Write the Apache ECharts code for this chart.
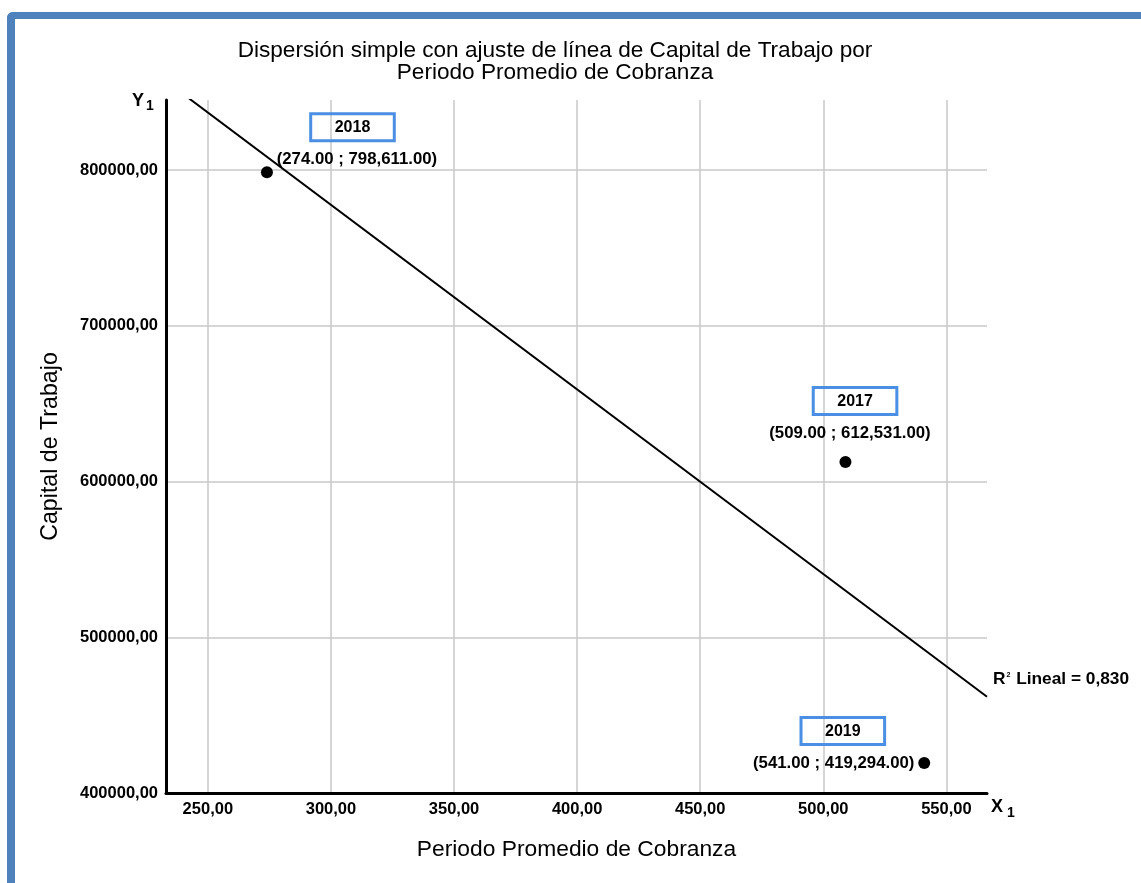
<!DOCTYPE html>
<html>
<head>
<meta charset="utf-8">
<title>Dispersión simple</title>
<script src="https://cdn.jsdelivr.net/npm/echarts@6/dist/echarts.min.js"></script>
<style>
html, body { margin: 0; padding: 0; background: #fff; overflow: hidden; }
#container { position: absolute; left: 0; top: 0; width: 1141px; height: 883px; }
#frame {
    position: absolute; left: 7px; top: 12px; width: 1160px; height: 900px;
    border-top: 7px solid #4f81bd; border-left: 8px solid #4f81bd;
    border-top-left-radius: 6px; pointer-events: none;
}
</style>
</head>
<body>
<div id="container"></div>
<div id="frame"></div>
<script>
// data
var years = ['2018', '2017', '2019'];
var periodo = [274, 509, 541];          // Periodo Promedio de Cobranza
var capital = [798611, 612531, 419294]; // Capital de Trabajo

// label placement (pixels, relative to the dot) and box shift inside the label
var labelOffsets = [[90, 10], [4.5, -6], [-90.5, 23]];
var boxIndent = [34, 44, 48];

var FONT = '"Liberation Sans", Arial, sans-serif';

// least squares fit
function linearFit(xs, ys) {
    var n = xs.length, mx = 0, my = 0;
    for (var i = 0; i < n; i++) { mx += xs[i]; my += ys[i]; }
    mx /= n; my /= n;
    var sxy = 0, sxx = 0, syy = 0;
    for (var j = 0; j < n; j++) {
        sxy += (xs[j] - mx) * (ys[j] - my);
        sxx += (xs[j] - mx) * (xs[j] - mx);
        syy += (ys[j] - my) * (ys[j] - my);
    }
    var slope = sxy / sxx;
    return { slope: slope, intercept: my - slope * mx, r2: (sxy * sxy) / (sxx * syy) };
}
var fit = linearFit(periodo, capital);

var xMin = 233, xMax = 566.5;
var yMin = 400000, yMax = 845000;

function comma(v) {
    return v.toFixed(2).replace('.', ',');
}
function coordText(x, y) {
    var parts = y.toFixed(2).split('.');
    var intPart = parts[0].replace(/\B(?=(\d{3})+(?!\d))/g, ',');
    return '(' + x.toFixed(2) + ' ; ' + intPart + '.' + parts[1] + ')';
}

var dom = document.getElementById('container');
var myChart = echarts.init(dom, null, { renderer: 'canvas' });

var pointData = [];
for (var i = 0; i < years.length; i++) {
    pointData.push({
        value: [periodo[i], capital[i]],
        name: years[i],
        label: {
            offset: labelOffsets[i],
            rich: { sp: { width: boxIndent[i] } }
        }
    });
}

var option = {
    animation: false,
    backgroundColor: '#fff',
    textStyle: { fontFamily: FONT },
    title: [
        {
            text: 'Dispersión simple con ajuste de línea de Capital de Trabajo por\nPeriodo Promedio de Cobranza',
            left: 555,
            textAlign: 'center',
            top: 40,
            padding: 0,
            textStyle: { fontSize: 22.6, lineHeight: 22, fontWeight: 'normal', color: '#000', fontFamily: FONT }
        },
        {
            text: '{a|Y}{s|1}',
            left: 132,
            top: 92,
            padding: 0,
            textStyle: {
                rich: {
                    a: { fontSize: 18, fontWeight: 'bold', color: '#000', fontFamily: FONT, lineHeight: 18, verticalAlign: 'top' },
                    s: { fontSize: 14, fontWeight: 'bold', color: '#000', fontFamily: FONT, padding: [7, 0, 0, 2], verticalAlign: 'top' }
                }
            }
        },
        {
            text: '{a|X}{s|1}',
            left: 991,
            top: 798,
            padding: 0,
            textStyle: {
                rich: {
                    a: { fontSize: 18, fontWeight: 'bold', color: '#000', fontFamily: FONT, lineHeight: 18, verticalAlign: 'top' },
                    s: { fontSize: 14, fontWeight: 'bold', color: '#000', fontFamily: FONT, padding: [8, 0, 0, 4], verticalAlign: 'top' }
                }
            }
        }
    ],
    grid: { left: 166, right: 154, top: 100, bottom: 90, containLabel: false },
    xAxis: {
        type: 'value',
        min: xMin,
        max: xMax,
        splitNumber: 7,
        name: 'Periodo Promedio de Cobranza',
        nameLocation: 'middle',
        nameGap: 45,
        nameTextStyle: { fontSize: 22.8, color: '#000', fontFamily: FONT },
        axisLine: { show: true, onZero: false, lineStyle: { color: '#000', width: 3 } },
        axisTick: { show: false },
        axisLabel: {
            formatter: comma,
            showMinLabel: false,
            showMaxLabel: false,
            margin: 8,
            fontSize: 16.5,
            fontWeight: 'bold',
            color: '#000',
            fontFamily: FONT
        },
        splitLine: { show: true, showMinLine: false, showMaxLine: false, lineStyle: { color: '#c8c8c8', width: 1.5 } }
    },
    yAxis: {
        type: 'value',
        min: yMin,
        max: yMax,
        interval: 100000,
        name: 'Capital de Trabajo',
        nameLocation: 'middle',
        nameRotate: 90,
        nameGap: 104,
        nameTextStyle: { fontSize: 23.2, color: '#000', fontFamily: FONT },
        axisLine: { show: true, onZero: false, lineStyle: { color: '#000', width: 3 } },
        axisTick: { show: false },
        axisLabel: {
            formatter: comma,
            showMaxLabel: false,
            margin: 8,
            fontSize: 16.5,
            fontWeight: 'bold',
            color: '#000',
            fontFamily: FONT
        },
        splitLine: { show: true, showMinLine: false, showMaxLine: false, lineStyle: { color: '#c8c8c8', width: 1.5 } }
    },
    series: [
        {
            // línea de ajuste
            type: 'line',
            data: [
                [xMin, fit.intercept + fit.slope * xMin],
                [xMax, fit.intercept + fit.slope * xMax]
            ],
            symbol: 'none',
            clip: true,
            z: 2,
            lineStyle: { color: '#000', width: 2 },
            endLabel: {
                show: true,
                distance: 6,
                offset: [0, -18],
                formatter: '{t|R}{p|2}{t| Lineal = ' + fit.r2.toFixed(3).replace('.', ',') + '}',
                rich: {
                    t: { fontSize: 17.3, fontWeight: 'bold', color: '#000', fontFamily: FONT },
                    p: { fontSize: 7, fontWeight: 'bold', color: '#000', fontFamily: FONT, padding: [0, 1, 8, 1] }
                }
            }
        },
        {
            type: 'scatter',
            data: pointData,
            symbol: 'circle',
            symbolSize: 12,
            z: 3,
            itemStyle: { color: '#000', opacity: 1 },
            emphasis: { disabled: true },
            label: {
                show: true,
                position: 'top',
                distance: 0,
                opacity: 1,
                formatter: function (p) {
                    return '{sp| }{box|' + p.name + '}\n{c|' + coordText(p.value[0], p.value[1]) + '}';
                },
                rich: {
                    sp: { width: 38, lineHeight: 30, align: 'left' },
                    box: {
                        padding: [6, 24, 5, 24], lineHeight: 30, align: 'left',
                        borderColor: '#4a8fe3', borderWidth: 3,
                        fontSize: 16, fontWeight: 'bold', color: '#000', fontFamily: FONT
                    },
                    c: {
                        lineHeight: 34, align: 'center',
                        fontSize: 16.8, fontWeight: 'bold', color: '#000', fontFamily: FONT
                    }
                }
            }
        }
    ]
};

myChart.setOption(option);
window.addEventListener('resize', myChart.resize);
</script>
</body>
</html>
